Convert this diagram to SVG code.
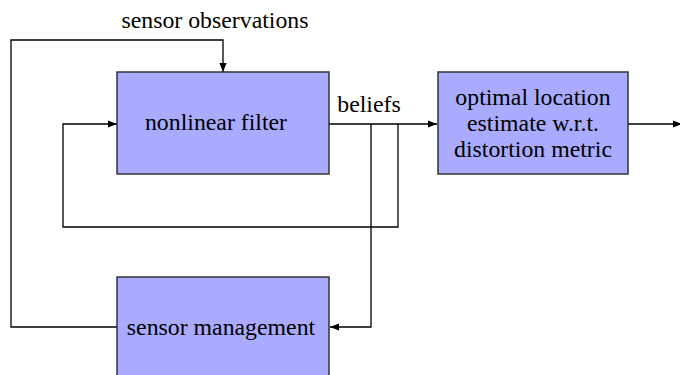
<svg xmlns="http://www.w3.org/2000/svg" width="680" height="375" viewBox="0 0 680 375">
<defs>
<marker id="ah" viewBox="0 0 10 10" refX="10" refY="5" markerWidth="9" markerHeight="9" markerUnits="userSpaceOnUse" orient="auto">
<path d="M0,1 L10,5 L0,9 Z" fill="#000"/>
</marker>
</defs>
<style>
.box{fill:#aaaaff;stroke:#333;stroke-width:1.5}
.t{font-family:"Liberation Serif","Times New Roman",serif;font-size:23.8px;fill:#000}
.c{fill:none;stroke:#000;stroke-width:1.3}
</style>
<g id="connectors">
<polyline class="c" points="117,327 11,327 11,40 223,40 223,72" marker-end="url(#ah)"/>
<line class="c" x1="329" y1="124" x2="437" y2="124" marker-end="url(#ah)"/>
<polyline class="c" points="398,124 398,227 63,227 63,124 117,124" marker-end="url(#ah)"/>
<polyline class="c" points="371,124 371,327 330,327" marker-end="url(#ah)"/>
<line class="c" x1="628" y1="124" x2="682" y2="124" marker-end="url(#ah)"/>
<text class="t" x="369" y="112" text-anchor="middle">beliefs</text>
<text class="t" x="215" y="28" text-anchor="middle">sensor observations</text>
</g>
<g id="filter">
<rect class="box" x="117" y="72" width="212" height="102"/>
<text class="t" x="216" y="130" text-anchor="middle">nonlinear filter</text>
</g>
<g id="estimate">
<rect class="box" x="438" y="72" width="190" height="102"/>
<text class="t" x="533" y="105" text-anchor="middle">optimal location</text>
<text class="t" x="533" y="131" text-anchor="middle">estimate w.r.t.</text>
<text class="t" x="533" y="157" text-anchor="middle">distortion metric</text>
</g>
<g id="management">
<rect class="box" x="117" y="277" width="212" height="110"/>
<text class="t" x="221" y="335" text-anchor="middle">sensor management</text>
</g>
</svg>
